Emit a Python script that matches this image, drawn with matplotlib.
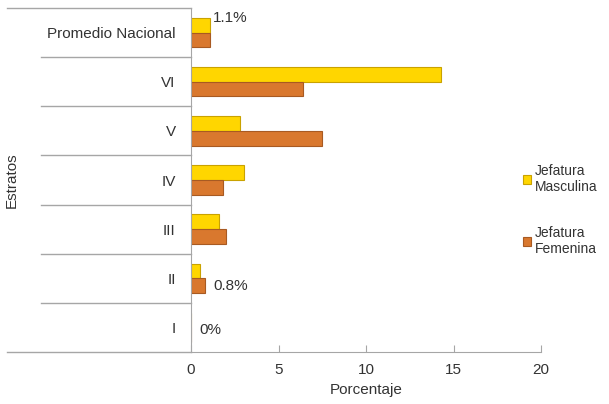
import matplotlib.pyplot as plt
import numpy as np

# data, bottom to top as drawn
estratos = ['I', 'II', 'III', 'IV', 'V', 'VI', 'Promedio Nacional']
masculina = [0.0, 0.5, 1.6, 3.0, 2.8, 14.3, 1.1]
femenina = [0.0, 0.8, 2.0, 1.8, 7.5, 6.4, 1.1]
etiquetas = [(0, 'femenina', '0%'), (1, 'femenina', '0.8%'), (6, 'masculina', '1.1%')]

plt.rcParams['font.family'] = ['Liberation Sans', 'DejaVu Sans']
txt = '#333333'
grey = '#a6a6a6'
fs = 11

fig = plt.figure(figsize=(6.09, 4.04), dpi=100)
ax = fig.add_axes([191 / 609, 1 - 352 / 404, 350 / 609, 344 / 404])

y = np.arange(len(estratos))
h = 0.3
ax.barh(y + h / 2, masculina, height=h, color='#ffd600', edgecolor='#c9a200',
        linewidth=0.8, label='Jefatura\nMasculina')
ax.barh(y - h / 2, femenina, height=h, color='#d9782e', edgecolor='#a85a22',
        linewidth=0.8, label='Jefatura\nFemenina')

for i, serie, texto in etiquetas:
    vals = masculina if serie == 'masculina' else femenina
    off = h / 2 if serie == 'masculina' else -h / 2
    yy = y[i] + off
    dx = 0.5
    if texto == '0%':
        yy = y[i] - 0.05
    if texto == '1.1%':
        yy = y[i] + 0.3
        dx = 0.15
    ax.text(vals[i] + dx, yy, texto, va='center', ha='left', fontsize=fs, color=txt)

ax.set_xlim(0, 20)
ax.set_ylim(-0.5, len(estratos) - 0.5)
ax.set_xticks([0, 5, 10, 15, 20])
ax.set_yticks(y)
ax.set_yticklabels(estratos)
ax.tick_params(axis='y', length=0, pad=11, labelsize=fs, labelcolor=txt)
ax.tick_params(axis='x', direction='in', length=5, color=grey, labelsize=fs,
               labelcolor=txt, pad=8)

for s in ['top', 'right']:
    ax.spines[s].set_visible(False)
for s in ['left', 'bottom']:
    ax.spines[s].set_color(grey)

# category separators on the label side
tr = ax.get_yaxis_transform()
for b in np.arange(0.5, len(estratos) - 1, 1.0):
    ax.plot([-150 / 350, 0], [b, b], color=grey, lw=1, transform=tr, clip_on=False)
ax.plot([-184 / 350, 0], [len(estratos) - 0.5] * 2, color=grey, lw=1, transform=tr, clip_on=False)
ax.plot([-184 / 350, 0], [-0.5, -0.5], color=grey, lw=1, transform=tr, clip_on=False)

ax.set_xlabel('Porcentaje', fontsize=fs, color=txt, labelpad=4)
fig.text(12 / 609, 1 - 180 / 404, 'Estratos', rotation=90, ha='center', va='center',
         fontsize=fs, color=txt)

fig.legend(loc='center left', bbox_to_anchor=(523 / 609, 1 - 210 / 404), frameon=False,
           fontsize=10, handlelength=0.6, handleheight=0.6, handletextpad=0.25,
           labelspacing=2.3, labelcolor=txt, borderpad=0, borderaxespad=0)

fig.savefig('out.png', dpi=100)
